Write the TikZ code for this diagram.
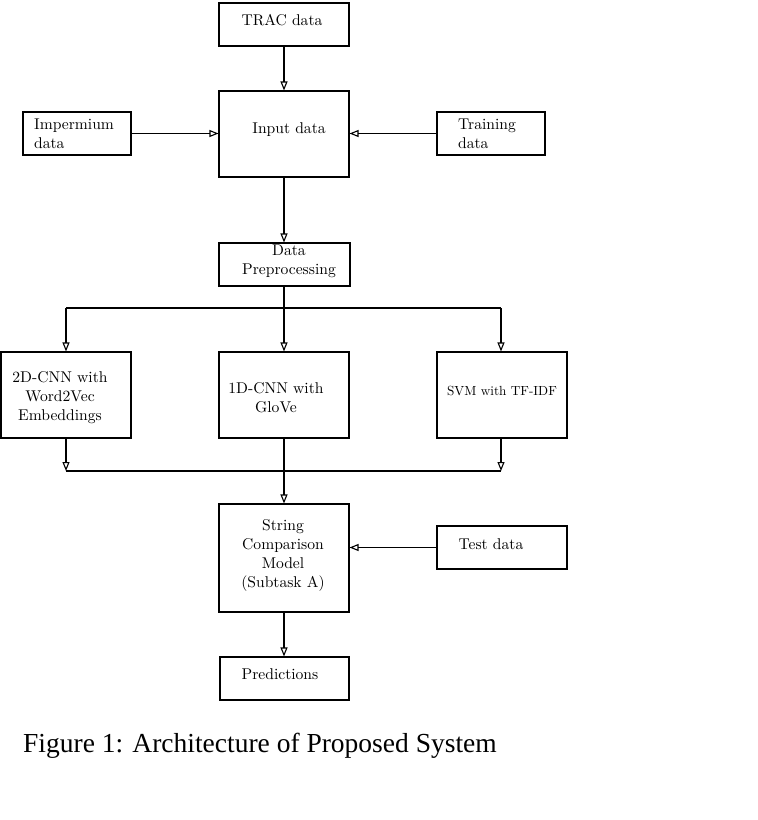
\documentclass[tikz,border=0pt]{standalone}
\usepackage{fontspec}
\newfontfamily\capfont{Liberation Serif}
\newfontfamily\lmten{lmroman10-regular}[Extension=.otf]
\usetikzlibrary{arrows.meta}
\begin{document}
\begin{tikzpicture}[x=1bp,y=-1bp,
  box/.style={draw, line width=1.1bp, inner sep=0pt, minimum width=130bp, minimum height=43bp},
  txt/.style={font=\lmten\fontsize{15.6bp}{19bp}\selectfont, align=center, inner sep=0pt},
  stxt/.style={font=\lmten\fontsize{13.2bp}{16bp}\selectfont, align=center, inner sep=0pt},
  conn/.style={line width=1.1bp},
  arr/.style={conn, -{Triangle[open, length=9bp, width=7bp]}}]
\useasboundingbox (0,0) rectangle (758,820);
% boxes
\node[box] (trac) at (284,24.5) {};
\node[box, minimum height=86bp] (input) at (284,134) {};
\node[box, minimum width=108bp] (imp) at (77,133.5) {};
\node[box, minimum width=108bp] (train) at (491,133.5) {};
\node[box, minimum width=131bp] (prep) at (284.5,264.5) {};
\node[box, minimum height=86bp] (cnn2) at (66,395) {};
\node[box, minimum height=86bp] (cnn1) at (284,395) {};
\node[box, minimum height=86bp] (svm) at (502,395) {};
\node[box, minimum height=108bp] (str) at (284,558) {};
\node[box] (test) at (502,547.5) {};
\node[box, minimum width=129bp] (pred) at (284.5,678.5) {};
% texts
\node[txt] (tracT) at (282,20) {TRAC data};
\node[txt] (inputT) at (289,129.5) {Input data};
\node[txt, align=left, anchor=west] (impT) at (34,134) {Impermium\\data};
\node[txt, align=left, anchor=west] (trainT) at (458,134) {Training\\data};
\node[txt] (prepT) at (289,261.5) {Data\\Preprocessing};
\node[txt] (cnn2T) at (60,398) {2D-CNN with\\Word2Vec\\Embeddings};
\node[txt] (cnn1T) at (276,398) {1D-CNN with\\GloVe};
\node[stxt] (svmT) at (502,391) {SVM with TF-IDF};
\node[txt] (strT) at (283,555) {String\\Comparison\\Model\\(Subtask A)};
\node[txt] (testT) at (491,544) {Test data};
\node[txt] (predT) at (280,674.5) {Predictions};
% junction coordinates
\coordinate (s0) at (284,308);
\coordinate (sl) at (66,308);
\coordinate (sr) at (501,308);
\coordinate (ml) at (66,471);
\coordinate (mr) at (501,471);
% connectors
\draw[arr] (trac.south) -- (input.north);
\draw[arr] (imp.east) -- (imp.east -| input.west);
\draw[arr] (train.west) -- (train.west -| input.east);
\draw[arr] (input.south) -- (input.south |- prep.north);
\draw[arr] (prep.south -| s0) -- (cnn1.north);
\draw[conn] (sl) -- (sr);
\draw[arr] (sl) -- (sl |- cnn2.north);
\draw[arr] (sr) -- (sr |- svm.north);
\draw[arr] (ml |- cnn2.south) -- (ml);
\draw[arr] (mr |- svm.south) -- (mr);
\draw[conn] (ml) -- (mr);
\draw[arr] (cnn1.south) -- (str.north);
\draw[arr] (test.west) -- (test.west -| str.east);
\draw[arr] (str.south) -- (str.south |- pred.north);
% caption
\node[anchor=base west, inner sep=0pt, font=\capfont\fontsize{27.5bp}{32bp}\selectfont] (cap) at (23,752) {Figure 1: Architecture of Proposed System};
\end{tikzpicture}
\end{document}
